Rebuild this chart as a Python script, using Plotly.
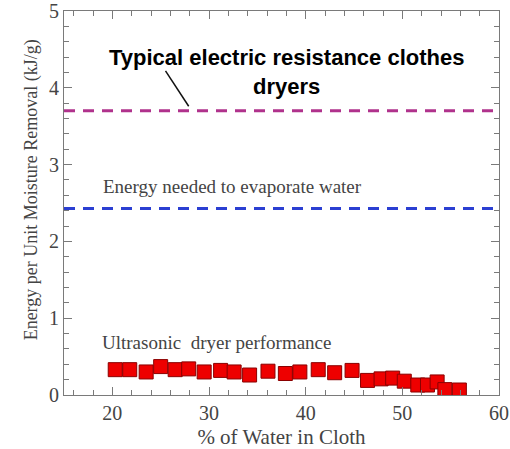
import plotly.graph_objects as go

# Moisture content of the cloth (%) and energy per unit moisture removed (kJ/g)
water_pct = [20.3, 21.8, 23.5, 25.0, 26.5, 27.9, 29.5, 31.2, 32.6, 34.2, 36.1, 37.9, 39.4,
             41.3, 43.0, 44.8, 46.4, 47.8, 49.0, 50.2, 51.6, 52.6, 53.6, 54.4, 55.9]
energy_kj_g = [0.33, 0.33, 0.30, 0.37, 0.33, 0.34, 0.30, 0.32, 0.30, 0.26, 0.31, 0.28, 0.30,
               0.33, 0.29, 0.32, 0.19, 0.21, 0.22, 0.18, 0.13, 0.13, 0.17, 0.07, 0.065]

# Reference levels
resistance_dryer = 3.70
evaporation_energy = 2.43
x_span = [15, 60]

x_ticks = [20, 30, 40, 50, 60]
y_ticks = [0, 1, 2, 3, 4, 5]

serif = "Liberation Serif, Times New Roman, serif"
text_grey = "#444444"
frame_grey = "#7a7a7a"

fig = go.Figure()

fig.add_trace(go.Scatter(
    x=x_span, y=[resistance_dryer] * 2, mode="lines",
    line=dict(color="#b0328c", width=3, dash="11px,8px"), hoverinfo="skip"))
fig.add_trace(go.Scatter(
    x=x_span, y=[evaporation_energy] * 2, mode="lines",
    line=dict(color="#2b3fd2", width=3, dash="11px,8px"), hoverinfo="skip"))
fig.add_trace(go.Scatter(
    x=water_pct, y=energy_kj_g, mode="markers",
    marker=dict(symbol="square", size=14, color="#ee0000",
                line=dict(color="#8a0000", width=1))))

fig.add_annotation(x=38.0, y=4.2, xref="x", yref="y",
                   text="<b>Typical electric resistance clothes<br>dryers</b>",
                   showarrow=False, align="center",
                   font=dict(family="Liberation Sans, Arial, sans-serif", size=22, color="#000000"))
fig.add_shape(type="line", xref="x", yref="y", x0=25.5, y0=4.22, x1=27.9, y1=3.76,
              line=dict(color="#111111", width=1.5))

fig.add_annotation(x=18.8, y=2.72, xref="x", yref="y", xanchor="left",
                   text="Energy needed to evaporate water", showarrow=False,
                   font=dict(family=serif, size=19, color=text_grey))
fig.add_annotation(x=18.7, y=0.69, xref="x", yref="y", xanchor="left",
                   text="Ultrasonic  dryer performance", showarrow=False,
                   font=dict(family=serif, size=19, color=text_grey))

fig.add_annotation(x=-0.074, y=0.535, xref="paper", yref="paper",
                   xanchor="center", yanchor="middle",
                   text="Energy per Unit Moisture Removal (kJ/g)", textangle=-90,
                   showarrow=False,
                   font=dict(family=serif, size=18, color=text_grey))

axis_common = dict(
    showgrid=False, zeroline=False, showline=True, linecolor=frame_grey, linewidth=1.2,
    mirror="ticks", ticks="inside", ticklen=8, tickcolor=frame_grey, automargin=False,
    ticklabeloverflow="allow",
    tickfont=dict(family=serif, size=20, color=text_grey),
)

fig.update_xaxes(range=x_span, tickvals=x_ticks,
                 title=dict(text="% of Water in Cloth", font=dict(family=serif, size=21, color=text_grey),
                            standoff=6),
                 minor=dict(dtick=2, ticks="inside", ticklen=5, tickcolor=frame_grey),
                 **axis_common)
fig.update_yaxes(range=[0, 5], tickvals=y_ticks,
                 minor=dict(dtick=0.2, ticks="inside", ticklen=5, tickcolor=frame_grey),
                 **axis_common)

fig.update_layout(
    width=510, height=449, showlegend=False,
    margin=dict(l=64, r=11, t=11, b=54),
    paper_bgcolor="white", plot_bgcolor="white",
)

fig.write_html("out.html")
